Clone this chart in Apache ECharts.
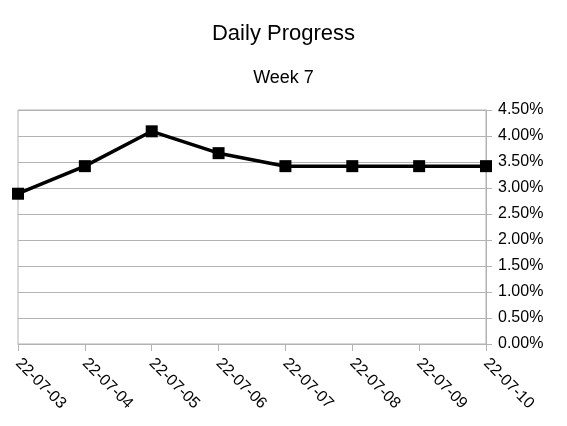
<!DOCTYPE html>
<html><head><meta charset="utf-8">
<script src="https://cdn.jsdelivr.net/npm/echarts@6/dist/echarts.min.js"></script>
<style>html,body{margin:0;padding:0;background:#fff}#c{width:567px;height:426px}</style>
</head><body><div id="c"></div>
<script>
const categories = ['22-07-03','22-07-04','22-07-05','22-07-06','22-07-07','22-07-08','22-07-09','22-07-10'];
const progress = [2.89, 3.42, 4.09, 3.67, 3.42, 3.42, 3.42, 3.42];
const titleText = 'Daily Progress';
const subtitleText = 'Week 7';

const chart = echarts.init(document.getElementById('c'), null, {renderer:'canvas'});
const font = 'Liberation Sans, Arial, sans-serif';
chart.setOption({
  animation: false,
  backgroundColor: '#fff',
  title: {
    text: titleText, subtext: subtitleText, left: 'center', top: 18, itemGap: 24,
    textStyle: {fontFamily: font, fontSize: 22, fontWeight: 'normal', color: '#000'},
    subtextStyle: {fontFamily: font, fontSize: 18, color: '#000'}
  },
  grid: {left: 18, right: 81, top: 110, bottom: 82, show: true, borderColor: '#b3b3b3', borderWidth: 1},
  xAxis: {
    type: 'category', data: categories, boundaryGap: false,
    axisLine: {lineStyle: {color: '#b3b3b3'}},
    axisTick: {show: true, length: 7, lineStyle: {color: '#b3b3b3'}},
    axisLabel: {rotate: -45, margin: 17, fontFamily: font, fontSize: 16, color: '#000', interval: 0},
    splitLine: {show: false}
  },
  yAxis: {
    type: 'value', position: 'right', min: 0, max: 4.5, interval: 0.5,
    axisLine: {show: true, lineStyle: {color: '#b3b3b3'}},
    axisTick: {show: true, length: 6, lineStyle: {color: '#b3b3b3'}},
    axisLabel: {margin: 12, fontFamily: font, fontSize: 16, color: '#000', formatter: v => v.toFixed(2) + '%'},
    splitLine: {lineStyle: {color: '#b3b3b3', width: 1}}
  },
  series: [{
    type: 'line', data: progress, symbol: 'rect', symbolSize: 12,
    lineStyle: {color: '#000', width: 3.5}, itemStyle: {color: '#000'}
  }]
});
</script></body></html>
